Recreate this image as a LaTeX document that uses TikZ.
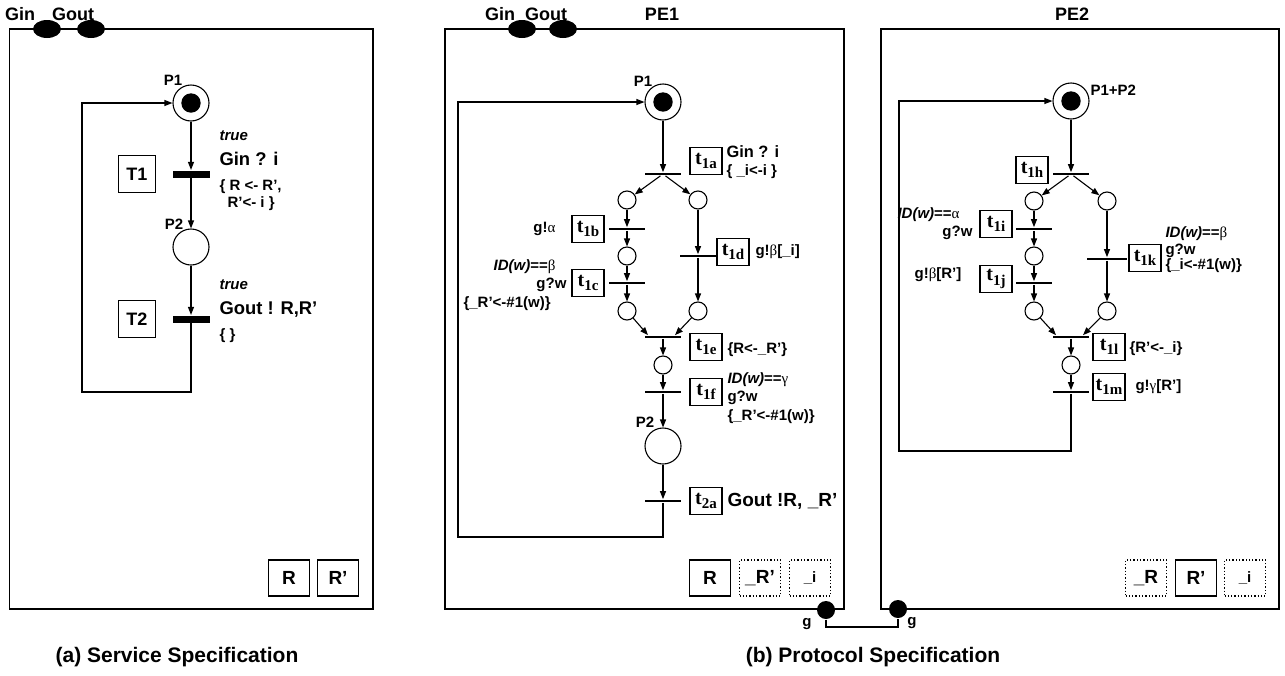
\documentclass[tikz,border=0pt]{standalone}
\usepackage{fontspec}
\setmainfont{Liberation Sans}
\newfontfamily\timesfont{Liberation Serif}
\usetikzlibrary{shapes.geometric,arrows.meta,calc}

\newcommand{\gk}[1]{{\timesfont\mdseries #1}}
\newcommand{\tn}[1]{{\timesfont\bfseries\fontsize{10}{10}\selectfont t\raisebox{-.5ex}{\fontsize{7.5}{8}\selectfont #1}}}

\begin{document}
\begin{tikzpicture}[x=0.5pt, y=-0.5pt, line width=0.55pt, >={Triangle[length=4pt,width=3pt]}]
\tikzstyle{every node} = [font=\bfseries\fontsize{7.5}{8.5}\selectfont]
\tikzstyle{place} = [circle, draw, minimum size=18pt, inner sep=0pt]
\tikzstyle{token} = [circle, fill, minimum size=9.7pt, inner sep=0pt]
\tikzstyle{sub} = [circle, draw, minimum size=9pt, inner sep=0pt]
\tikzstyle{bar} = [rectangle, fill, minimum width=18.5pt, minimum height=3.5pt, inner sep=0pt]
\tikzstyle{thinbar} = [rectangle, fill, minimum width=18pt, minimum height=1.3pt, inner sep=0pt]
\tikzstyle{tbox} = [draw, minimum width=16pt, minimum height=13.5pt, inner sep=0pt]
\tikzstyle{Tbox} = [draw, minimum size=18.5pt, inner sep=0pt, font=\bfseries\fontsize{9}{9}\selectfont]
\tikzstyle{reg} = [draw, line width=0.65pt, minimum width=20.5pt, minimum height=18pt, inner sep=0pt, font=\bfseries\fontsize{9.5}{9.5}\selectfont]
\tikzstyle{vreg} = [reg, densely dotted]
\tikzstyle{port} = [ellipse, fill, minimum width=14pt, minimum height=9pt, inner sep=0pt]
\tikzstyle{gport} = [circle, fill, minimum size=9pt, inner sep=0pt]
\tikzstyle{lbl} = [anchor=west, inner sep=0pt]
\tikzstyle{rlbl} = [anchor=east, inner sep=0pt]
\tikzstyle{big} = [font=\bfseries\fontsize{9.2}{10}\selectfont]
\tikzstyle{head} = [font=\bfseries\fontsize{9}{10}\selectfont]
\tikzstyle{captext} = [font=\bfseries\fontsize{10.5}{12}\selectfont]
\useasboundingbox (0,0) rectangle (1285,675);

% (a) service specification
\draw (9.5,29) rectangle (373,609);
\node[port] (gin) at (47,29) {};
\node[port] (gout) at (91,29) {};
\node[head] (ginl) at (20,14) {Gin};
\node[head] (goutl) at (73,14) {Gout};

\node[place] (p1) at (191,103) {};
\node[token] (p1t) at (p1) {};
\node (p1l) at (173,80) {P1};
\node[bar] (t1) at (191,174) {};
\node[Tbox] (t1n) at (137,174) {T1};
\node[place] (p2) at (191,247) {};
\node (p2l) at (174,224) {P2};
\node[bar] (t2) at (191,319) {};
\node[Tbox] (t2n) at (137,319) {T2};
\coordinate (sa) at (82,392);

\node[lbl] (g1) at (219,136) {\itshape true};
\node[lbl, big] (e1) at (219,159) {Gin ? i};
\node[lbl] (a1) at (219,187) {\{ R <- R’,};
\node[lbl] (a1b) at (227,204) {R’<- i \}};
\node[lbl] (g2) at (219,285) {\itshape true};
\node[lbl, big] (e2) at (219,309) {Gout ! R,R’};
\node[lbl] (a2) at (219,336) {\{ \}};

\draw [->] (p1) -- (t1);
\draw [->] (t1) -- (p2);
\draw [->] (p2) -- (t2);
\draw [->] (t2) |- (sa) |- (p1);

\node[reg] (sr) at (289,578) {R};
\node[reg] (srr) at (338,578) {R’};
\node[captext] (capa) at (177,657) {(a) Service Specification};

% (b) protocol specification, PE1
\draw (445,29) rectangle (844,609);
\node[port] (gin1) at (522,29) {};
\node[port] (gout1) at (563,29) {};
\node[head] (gin1l) at (500,14) {Gin};
\node[head] (gout1l) at (546,14) {Gout};
\node[head] (pe1) at (662,14) {PE1};

\node[place] (q1) at (663,102) {};
\node[token] (q1t) at (q1) {};
\node (q1l) at (643,81) {P1};
\node[thinbar] (t1a) at (663,174) {};
\node[tbox] (t1an) at (706,161) {\tn{1a}};
\node[lbl, font=\bfseries\fontsize{8.2}{9}\selectfont] (e1a) at (726,152) {Gin ? i};
\node[lbl] (a1a) at (726,172) {\{ \_i<-i \}};

\node[sub] (ca1) at (627,200) {};
\node[sub] (cb1) at (698,200) {};
\node[thinbar] (t1b) at (627,229) {};
\node[tbox] (t1bn) at (588,229) {\tn{1b}};
\node[rlbl] (e1b) at (556,229) {g!\gk{α}};
\node[sub] (ca2) at (627,256) {};
\node[thinbar] (t1c) at (627,283) {};
\node[tbox] (t1cn) at (588,283) {\tn{1c}};
\node[rlbl] (g1c) at (556,267) {\textit{ID(w)}==\gk{β}};
\node[rlbl] (e1c) at (567,285) {g?w};
\node[lbl] (a1c) at (463,304) {\{\_R’<-\#1(w)\}};
\node[sub] (ca3) at (627,311) {};
\node[thinbar] (t1d) at (698,256) {};
\node[tbox] (t1dn) at (733,252) {\tn{1d}};
\node[lbl] (e1d) at (755,252) {g!\gk{β}[\_i]};
\node[sub] (cb3) at (698,311) {};

\node[thinbar] (t1e) at (663,337) {};
\node[tbox] (t1en) at (706,347) {\tn{1e}};
\node[lbl] (a1e) at (727,350) {\{R<-\_R’\}};
\node[sub] (cc) at (663,365) {};
\node[thinbar] (t1f) at (663,392) {};
\node[tbox] (t1fn) at (706,392) {\tn{1f}};
\node[lbl] (g1f) at (727,380) {\textit{ID(w)}==\gk{γ}};
\node[lbl] (e1f) at (727,398) {g?w};
\node[lbl] (a1f) at (727,417) {\{\_R’<-\#1(w)\}};
\node[place] (q2) at (663,446) {};
\node (q2l) at (645,422) {P2};
\node[thinbar] (t2a) at (663,501) {};
\node[tbox] (t2an) at (706,501) {\tn{2a}};
\node[lbl, font=\bfseries\fontsize{9.5}{10}\selectfont] (e2a) at (727,501) {Gout !R, \_R’};
\coordinate (la) at (458,537);

\draw [->] (q1) -- (t1a);
\draw [->] (t1a) -- (ca1);
\draw [->] (t1a) -- (cb1);
\draw [->] (ca1) -- (t1b);
\draw [->] (t1b) -- (ca2);
\draw [->] (ca2) -- (t1c);
\draw [->] (t1c) -- (ca3);
\draw [->] (cb1) -- (t1d);
\draw [->] (t1d) -- (cb3);
\draw [->] (ca3) -- ($(t1e.north)+(-15,0)$);
\draw [->] (cb3) -- ($(t1e.north)+(12,0)$);
\draw [->] (t1e) -- (cc);
\draw [->] (cc) -- (t1f);
\draw [->] (t1f) -- (q2);
\draw [->] (q2) -- (t2a);
\draw [->] (t2a) |- (la) |- (q1);

\node[reg] (mr) at (710,578) {R};
\node[vreg] (mrr) at (760,578) {\_R’};
\node[vreg, font=\bfseries\fontsize{7.5}{8}\selectfont] (mi) at (810,578) {\_i};
\node[gport] (gm) at (826,610) {};
\node (gml) at (807,624) {g};

% (b) protocol specification, PE2
\draw (881,29) rectangle (1279,609);
\node[head] (pe2) at (1072,14) {PE2};

\node[place] (r1) at (1071,101) {};
\node[token] (r1t) at (r1) {};
\node[lbl] (r1l) at (1090,90) {P1+P2};
\node[thinbar] (t1h) at (1071,174) {};
\node[tbox] (t1hn) at (1032,170) {\tn{1h}};
\node[sub] (da1) at (1034,201) {};
\node[sub] (db1) at (1107,201) {};
\node[thinbar] (t1i) at (1034,229) {};
\node[tbox] (t1in) at (996,224) {\tn{1i}};
\node[lbl] (g1i) at (897,215) {\textit{ID(w)}==\gk{α}};
\node[rlbl] (e1i) at (973,233) {g?w};
\node[sub] (da2) at (1034,256) {};
\node[thinbar] (t1j) at (1034,283) {};
\node[tbox] (t1jn) at (996,279) {\tn{1j}};
\node (e1j) at (938,275) {g!\gk{β}[R’]};
\node[sub] (da3) at (1034,311) {};
\node[thinbar, minimum width=20pt] (t1k) at (1107,259) {};
\node[tbox] (t1kn) at (1145,258) {\tn{1k}};
\node[lbl] (g1k) at (1165,234) {\textit{ID(w)}==\gk{β}};
\node[lbl] (e1k) at (1165,251) {g?w};
\node[lbl] (a1k) at (1165,266) {\{\_i<-\#1(w)\}};
\node[sub] (db3) at (1107,311) {};

\node[thinbar] (t1l) at (1071,337) {};
\node[tbox] (t1ln) at (1109,347) {\tn{1l}};
\node[lbl] (a1l) at (1129,349) {\{R’<-\_i\}};
\node[sub] (dc) at (1071,365) {};
\node[thinbar] (t1m) at (1071,392) {};
\node[tbox] (t1mn) at (1109,387) {\tn{1m}};
\node[lbl] (e1m) at (1135,387) {g!\gk{γ}[R’]};
\coordinate (lb) at (899,451);

\draw [->] (r1) -- (t1h);
\draw [->] (t1h) -- (da1);
\draw [->] (t1h) -- (db1);
\draw [->] (da1) -- (t1i);
\draw [->] (t1i) -- (da2);
\draw [->] (da2) -- (t1j);
\draw [->] (t1j) -- (da3);
\draw [->] (db1) -- (t1k);
\draw [->] (t1k) -- (db3);
\draw [->] (da3) -- ($(t1l.north)+(-15,0)$);
\draw [->] (db3) -- ($(t1l.north)+(12,0)$);
\draw [->] (t1l) -- (dc);
\draw [->] (dc) -- (t1m);
\draw [->] (t1m) |- (lb) |- (r1);

\node[vreg] (nr) at (1146,578) {\_R};
\node[reg] (nrr) at (1196,578) {R’};
\node[vreg, font=\bfseries\fontsize{7.5}{8}\selectfont] (ni) at (1245,578) {\_i};
\node[gport] (gr) at (898,609) {};
\node (grl) at (912,623) {g};
\coordinate (gw) at (862,627);
\draw (gm) |- (gw) -| (gr);

\node[captext] (capb) at (873,657) {(b) Protocol Specification};
\end{tikzpicture}
\end{document}
